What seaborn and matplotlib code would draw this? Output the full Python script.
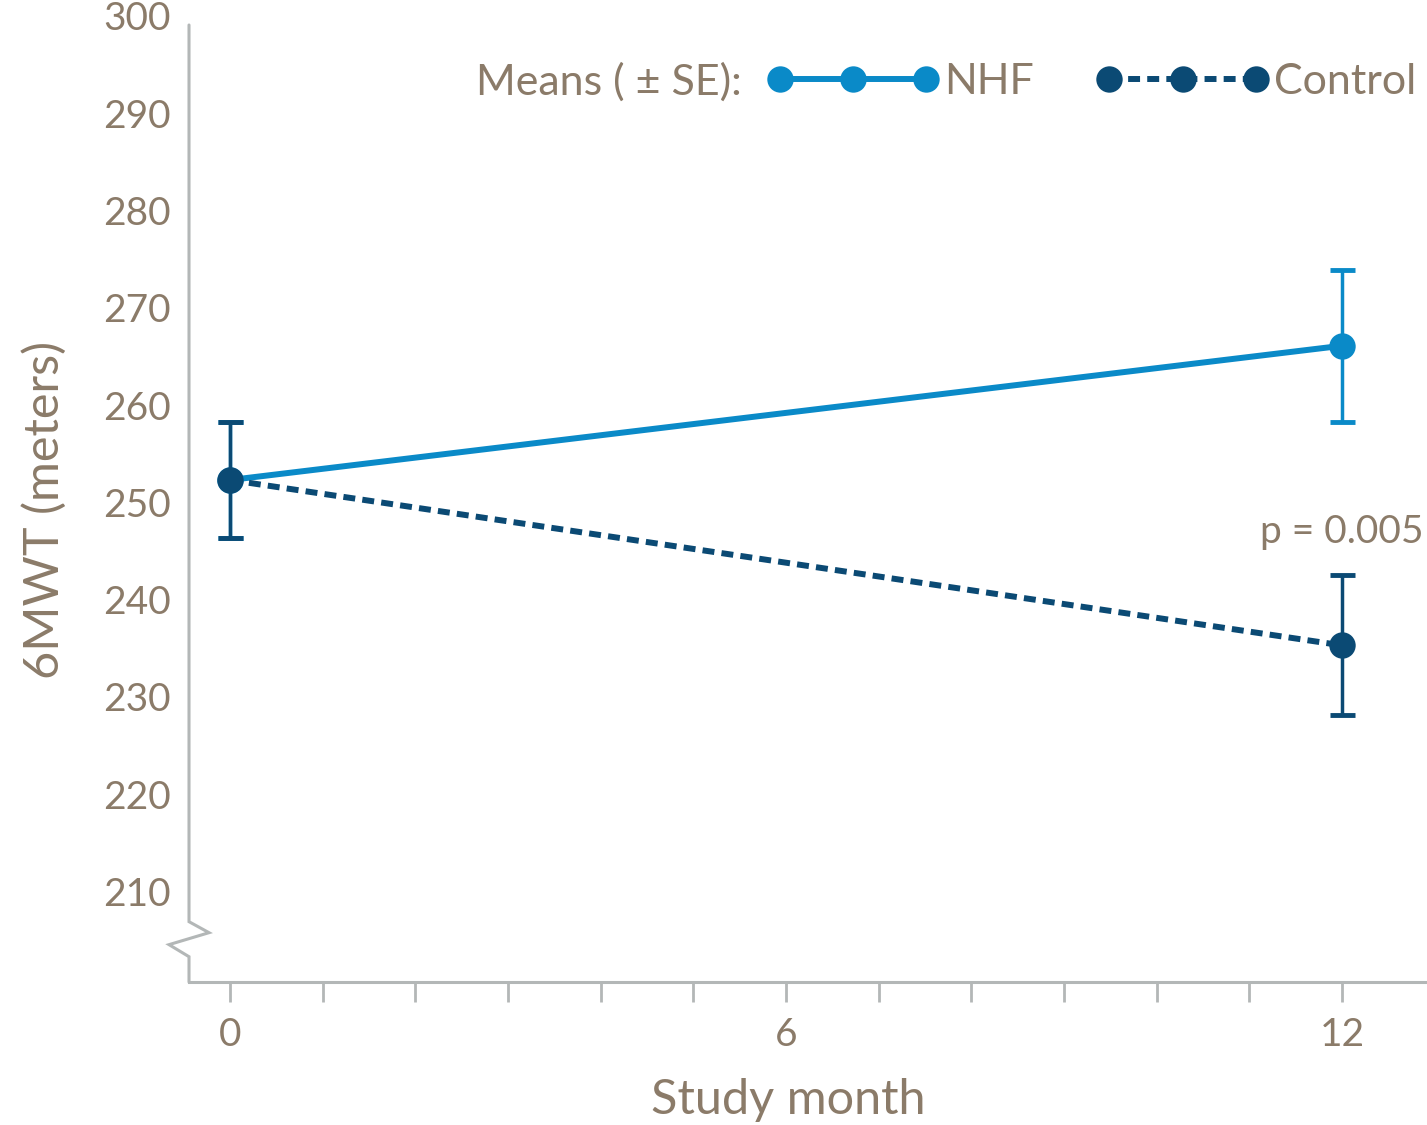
import pandas as pd
import matplotlib.pyplot as plt
import matplotlib.transforms as mtransforms
import seaborn as sns

# Values
months = [0, 12]
nhf_means = [252.3, 266.1]
nhf_se = [6.0, 7.8]
control_means = [252.3, 235.3]
control_se = [6.0, 7.2]
groups = ['NHF', 'Control']
x_tick_labels = ['0', '6', '12']
y_ticks = [210, 220, 230, 240, 250, 260, 270, 280, 290, 300]
p_text = 'p = 0.005'

NHF_COLOR = '#0a8ac8'
CONTROL_COLOR = '#0b4a74'
TEXT_COLOR = '#8b7b69'
AXIS_COLOR = '#b3b7b7'

df = pd.DataFrame({
    'month': months * 2,
    'mean': nhf_means + control_means,
    'se': nhf_se + control_se,
    'group': ['NHF'] * len(months) + ['Control'] * len(months),
})

sns.set_theme(style='white')
plt.rcParams['font.family'] = ['Lato', 'DejaVu Sans']

fig = plt.figure(figsize=(14.27, 11.25), dpi=100)
ax = fig.add_axes([0.13245, 0.12711, 0.86615, 0.86044])

# Mean lines with markers
sns.lineplot(data=df, x='month', y='mean', hue='group', style='group',
             hue_order=groups, style_order=groups,
             palette={'NHF': NHF_COLOR, 'Control': CONTROL_COLOR},
             dashes={'NHF': '', 'Control': (2, 1.2)},
             markers={'NHF': 'o', 'Control': 'o'},
             markersize=19, markeredgewidth=0, linewidth=4.3, ax=ax)

# SE error bars
for name, color, z in [('NHF', NHF_COLOR, 1.5), ('Control', CONTROL_COLOR, 3)]:
    sub = df[df['group'] == name]
    ax.errorbar(sub['month'], sub['mean'], yerr=sub['se'], fmt='none',
                ecolor=color, elinewidth=2.5, capsize=9, capthick=3.5,
                zorder=z)

# Axis limits and ticks
ax.set_xlim(-0.442, 12.895)
ax.set_ylim(200.7, 300.2)
ax.set_xticks([0, 6, 12])
ax.set_xticklabels(x_tick_labels)
ax.set_xticks(range(0, 13), minor=True)
ax.set_yticks(y_ticks)
ax.tick_params(axis='x', which='both', direction='out', length=14.5,
               width=2, color=AXIS_COLOR, bottom=True, pad=11,
               labelsize=28, labelcolor=TEXT_COLOR)
ax.tick_params(axis='y', length=0, pad=13, labelsize=28,
               labelcolor=TEXT_COLOR)

for side in ['top', 'right', 'left']:
    ax.spines[side].set_visible(False)
ax.spines['bottom'].set_color(AXIS_COLOR)
ax.spines['bottom'].set_linewidth(2.2)

# Left axis with a break zigzag near the bottom
trans = mtransforms.blended_transform_factory(ax.transAxes, ax.transData)
dx = 20 / 1236
ax.plot([0, 0, dx, -dx, 0, 0],
        [299.07, 206.9, 205.77, 204.54, 203.3, 200.7],
        color=AXIS_COLOR, linewidth=2.2, transform=trans, clip_on=False,
        solid_joinstyle='miter')

# Labels
ax.set_xlabel('Study month', fontsize=35, color=TEXT_COLOR)
ax.xaxis.set_label_coords(0.4846, -0.099)
ax.set_ylabel('6MWT (meters)', fontsize=35, color=TEXT_COLOR)
ax.yaxis.set_label_coords(-0.099, 0.488)

ax.text(12, 247.0, p_text, ha='center', va='center', fontsize=28,
        color=TEXT_COLOR)

# Legend
handles, labels = ax.get_legend_handles_labels()
leg = ax.legend(handles, labels, ncol=2, frameon=False, fontsize=31,
                numpoints=3, handlelength=4.0, handletextpad=0.12,
                columnspacing=1.45, borderpad=0, borderaxespad=0,
                loc='center left', bbox_to_anchor=(767 / 1427, 1 - 82 / 1125),
                bbox_transform=fig.transFigure, labelcolor=TEXT_COLOR)
fig.text(742 / 1427, 1 - 82 / 1125, 'Means ( ± SE):', ha='right',
         va='center', fontsize=31, color=TEXT_COLOR)

plt.savefig('out.png', dpi=100)
